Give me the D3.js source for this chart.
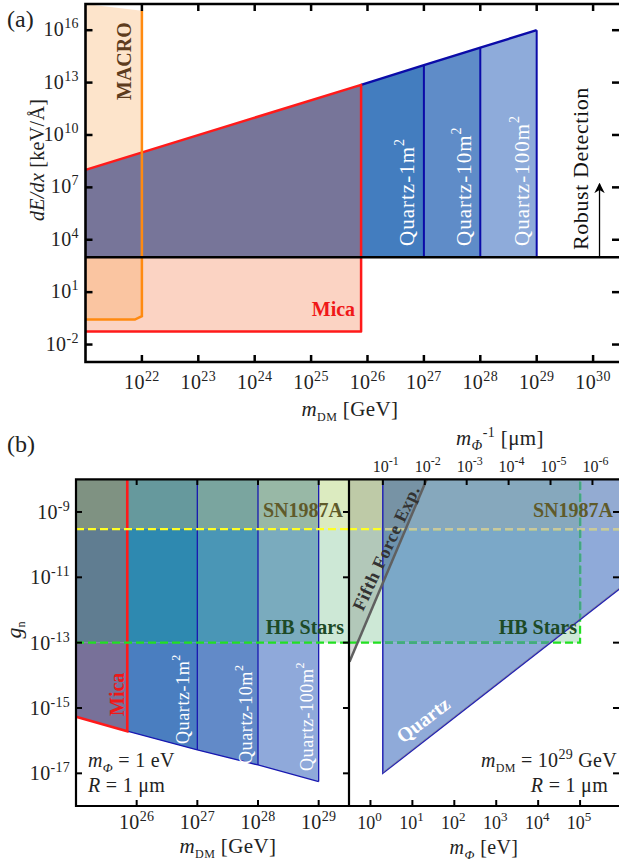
<!DOCTYPE html>
<html>
<head>
<meta charset="utf-8">
<script src="https://cdn.jsdelivr.net/npm/d3@7"></script>
<style>
body { margin: 0; background: #fff; }
svg { display: block; }
text { font-family: "Liberation Serif", "Times New Roman", serif; }
</style>
</head>
<body>
<svg width="619" height="867"></svg>
<script>
// ---------- panel (a) data ----------
const massTicksA = [1e22, 1e23, 1e24, 1e25, 1e26, 1e27, 1e28, 1e29, 1e30];
const rateTicksA = [1e-2, 1e1, 1e4, 1e7, 1e10, 1e13, 1e16];
const thresholdA = 1e3;                         // robust detection
const micaEdgeA = 7.7e25, micaFloorA = 0.056;
const envelopeMass = [1e21, 7.7e25, 1e27, 1e28, 1e29];
const envelopeRate = [1e8, 7.4e12, 1e14, 1e15, 1e16];
const macroOutline = [[1e21, 0.27], [7.5e21, 0.27], [1e22, 0.42], [1e22, 1.3e17]];
const quartzNamesA = ["Quartz-1m", "Quartz-10m", "Quartz-100m"];

// ---------- panel (b) data ----------
const massTicksB = [1e26, 1e27, 1e28, 1e29];
const gTicks = [1e-17, 1e-15, 1e-13, 1e-11, 1e-9];
const bandEdges = [1e25, 7e25, 1e27, 1e28, 1e29];       // Mica, Q1, Q10, Q100
const bandFloor = [5.4e-16, 1.95e-16, 5.2e-17, 1.8e-17, 5.6e-18];
const snLimit = 3e-10, hbLimit = 1e-13, hbMaxPhi = 1e5;
const phiTicks = [1, 10, 100, 1e3, 1e4, 1e5];
const invPhiTicks = [1e-1, 1e-2, 1e-3, 1e-4, 1e-5, 1e-6];  // micrometres
const hbarc = 0.1973;                                      // eV * um
const quartzLine = [[1.97, 1e-17], [1e6, 5.1e-12]];
const fifthForce = [[0.316, 2.6e-14], [22, 1e-8]];

const svg = d3.select("svg");
const defs = svg.append("defs");

function pow10(t, v, sup, dy) {
  const e = Math.round(Math.log10(v));
  t.append("tspan").text("10");
  t.append("tspan").attr("font-size", sup).attr("dy", -dy).text(e);
}
function clipRect(id, x0, y0, x1, y1) {
  defs.append("clipPath").attr("id", id).append("rect")
    .attr("x", x0).attr("y", y0).attr("width", x1 - x0).attr("height", y1 - y0);
  return "url(#" + id + ")";
}

// =========================== PANEL (a) ===========================
const xA = d3.scaleLog().domain([1e21, 3e30]).range([85.5, 620]);
const yA = d3.scaleLog().domain([1e-3, Math.pow(10, 17.5)]).range([362, 4]);
const lineA = d3.line().x(d => xA(d[0])).y(d => yA(d[1]));
const gA = svg.append("g");

// mica pink below threshold
gA.append("path").attr("fill", "#fbd3c3")
  .attr("d", lineA([[1e21, micaFloorA], [micaEdgeA, micaFloorA], [micaEdgeA, thresholdA], [1e21, thresholdA]]));
// MACRO translucent
gA.append("path").attr("fill", "rgb(248,165,82)").attr("fill-opacity", 0.3)
  .attr("d", lineA(macroOutline.concat([[1e21, Math.pow(10, 17.5)]])));

// bands above threshold
const bandColA = ["#777599", "#437dbf", "#5f8cc8", "#8eabda"];
for (let i = 0; i < 4; i++) {
  const pts = [[envelopeMass[i], thresholdA], [envelopeMass[i], envelopeRate[i]],
               [envelopeMass[i + 1], envelopeRate[i + 1]], [envelopeMass[i + 1], thresholdA]];
  gA.append("path").attr("fill", bandColA[i]).attr("d", lineA(pts));
}
// blue outlines
gA.append("path").attr("fill", "none").attr("stroke", "#0b0ba8").attr("stroke-width", 2.4)
  .attr("d", lineA(envelopeMass.slice(1).map((m, i) => [m, envelopeRate[i + 1]])));
[2, 3, 4].forEach(i => {
  gA.append("path").attr("stroke", "#0b0ba8").attr("stroke-width", 2)
    .attr("d", lineA([[envelopeMass[i], thresholdA], [envelopeMass[i], envelopeRate[i]]]));
});
// mica red outline
gA.append("path").attr("fill", "none").attr("stroke", "#ff1a1a").attr("stroke-width", 2.5)
  .attr("stroke-linejoin", "round")
  .attr("d", lineA([[1e21, envelopeRate[0]], [micaEdgeA, envelopeRate[1]], [micaEdgeA, micaFloorA], [1e21, micaFloorA]]));
// MACRO outline
gA.append("path").attr("fill", "none").attr("stroke", "#ff8a10").attr("stroke-width", 2.5)
  .attr("d", lineA(macroOutline));
// threshold
gA.append("line").attr("x1", 85).attr("x2", 619).attr("y1", yA(thresholdA)).attr("y2", yA(thresholdA))
  .attr("stroke", "#000").attr("stroke-width", 2.6);

// labels
gA.append("text").attr("transform", `translate(131,100) rotate(-90)`)
  .attr("font-size", 20).attr("font-weight", "bold").attr("fill", "#5e3c1d").text("MACRO");
gA.append("text").attr("x", xA(micaEdgeA) - 6).attr("y", 316).attr("text-anchor", "end")
  .attr("font-size", 20).attr("font-weight", "bold").attr("fill", "#f01818").text("Mica");
const qxA = [414, 471, 529];
quartzNamesA.forEach((n, i) => {
  const t = gA.append("text").attr("transform", `translate(${qxA[i]},246) rotate(-90)`)
    .attr("font-size", 21).attr("fill", "#fff").attr("letter-spacing", 1);
  t.append("tspan").text(n);
  t.append("tspan").attr("font-size", 14).attr("dy", -10).text("2");
});
gA.append("text").attr("transform", `translate(588,250) rotate(-90)`)
  .attr("font-size", 22).attr("fill", "#111").attr("letter-spacing", 0.6).text("Robust Detection");
defs.append("marker").attr("id", "arr").attr("viewBox", "0 0 10 10").attr("refX", 9).attr("refY", 5)
  .attr("markerWidth", 8).attr("markerHeight", 8).attr("orient", "auto")
  .append("path").attr("d", "M0,0 L10,5 L0,10 L3,5 Z").attr("fill", "#000");
gA.append("line").attr("x1", xA(1.3e30)).attr("x2", xA(1.3e30))
  .attr("y1", yA(thresholdA)).attr("y2", yA(1.6e7))
  .attr("stroke", "#000").attr("stroke-width", 1.3).attr("marker-end", "url(#arr)");

// frame & ticks
gA.append("path").attr("fill", "none").attr("stroke", "#000").attr("stroke-width", 2.6)
  .attr("d", "M620,4 H85.5 V362 H620");
massTicksA.forEach(m => {
  gA.append("line").attr("x1", xA(m)).attr("x2", xA(m)).attr("y1", 362).attr("y2", 355).attr("stroke", "#000").attr("stroke-width", 2.5);
  gA.append("line").attr("x1", xA(m)).attr("x2", xA(m)).attr("y1", 4).attr("y2", 11).attr("stroke", "#000").attr("stroke-width", 2.5);
  const t = gA.append("text").attr("x", xA(m)).attr("y", 389).attr("text-anchor", "middle").attr("font-size", 20)
    .attr("letter-spacing", 0.4).attr("fill", "#222");
  pow10(t, m, 14, 8);
});
rateTicksA.forEach(r => {
  gA.append("line").attr("x1", 85.5).attr("x2", 92.5).attr("y1", yA(r)).attr("y2", yA(r)).attr("stroke", "#000").attr("stroke-width", 2.5);
  gA.append("line").attr("x1", 612).attr("x2", 619).attr("y1", yA(r)).attr("y2", yA(r)).attr("stroke", "#000").attr("stroke-width", 2.5);
  const t = gA.append("text").attr("x", 79).attr("y", yA(r) + 6).attr("text-anchor", "end").attr("font-size", 20)
    .attr("letter-spacing", 0.4).attr("fill", "#222");
  pow10(t, r, 14, 8);
});
{
  const t = gA.append("text").attr("transform", "translate(44,160) rotate(-90)").attr("text-anchor", "middle")
    .attr("font-size", 20).attr("fill", "#222").attr("letter-spacing", 0.3);
  t.append("tspan").attr("font-style", "italic").text("dE/dx");
  t.append("tspan").text(" [keV/\u00C5]");
  const u = gA.append("text").attr("x", 350).attr("y", 416).attr("text-anchor", "middle").attr("font-size", 21)
    .attr("fill", "#222").attr("letter-spacing", 0.4);
  u.append("tspan").attr("font-style", "italic").text("m");
  u.append("tspan").attr("font-size", 12).attr("dy", 5).text("DM");
  u.append("tspan").attr("dy", -5).text(" [GeV]");
}
svg.append("text").attr("x", 7).attr("y", 27).attr("font-size", 24).attr("fill", "#222").text("(a)");
svg.append("text").attr("x", 7).attr("y", 452).attr("font-size", 24).attr("fill", "#222").text("(b)");

// =========================== PANEL (b) left ===========================
const xL = d3.scaleLog().domain([1e25, Math.pow(10, 29.5)]).range([76, 349]);
const yB = d3.scaleLog().domain([1e-18, 1e-8]).range([806, 479.3]);
const lineL = d3.line().x(d => xL(d[0])).y(d => yB(d[1]));
const gL = svg.append("g");
const ySN = yB(snLimit), yHB = yB(hbLimit);

gL.append("rect").attr("x", 76).attr("y", 479).attr("width", 273).attr("height", yHB - 479).attr("fill", "#cde8d6");
gL.append("rect").attr("x", 76).attr("y", 479).attr("width", 273).attr("height", ySN - 479).attr("fill", "#dcebc0");

const zoneL = [clipRect("zl0", 76, 479, 349, ySN), clipRect("zl1", 76, ySN, 349, yHB), clipRect("zl2", 76, yHB, 349, 806)];
const bandColB = [
  ["#7f9282", "#607d91", "#787199"],
  ["#66999d", "#2e89b0", "#4a7ec0"],
  ["#7aa59f", "#4a96b6", "#628ac8"],
  ["#98b8a6", "#7aabbe", "#8fa9da"]
];
for (let i = 0; i < 4; i++) {
  const pts = [[bandEdges[i], bandFloor[i]], [bandEdges[i + 1], bandFloor[i + 1]],
               [bandEdges[i + 1], 1e-8], [bandEdges[i], 1e-8]];
  for (let z = 0; z < 3; z++)
    gL.append("path").attr("fill", bandColB[i][z]).attr("clip-path", zoneL[z]).attr("d", lineL(pts));
}
gL.append("path").attr("fill", "none").attr("stroke", "#1818b0").attr("stroke-width", 1.3)
  .attr("d", lineL(bandEdges.slice(1).map((m, i) => [m, bandFloor[i + 1]])));
[2, 3, 4].forEach(i => gL.append("path").attr("stroke", "#1818b0").attr("stroke-width", 1.3)
  .attr("d", lineL([[bandEdges[i], bandFloor[i]], [bandEdges[i], 1e-8]])));
gL.append("path").attr("fill", "none").attr("stroke", "#ff1a1a").attr("stroke-width", 2.6)
  .attr("d", lineL([[bandEdges[0], bandFloor[0]], [bandEdges[1], bandFloor[1]], [bandEdges[1], 1e-8]]));
// dashed limits
gL.append("line").attr("x1", 76).attr("x2", 349).attr("y1", ySN).attr("y2", ySN)
  .attr("stroke", "#ffff22").attr("stroke-width", 2.2).attr("stroke-dasharray", "8,4");
gL.append("line").attr("x1", 76).attr("x2", 349).attr("y1", yHB).attr("y2", yHB)
  .attr("stroke", "#22e022").attr("stroke-width", 2.2).attr("stroke-dasharray", "8,4");

// labels
gL.append("text").attr("x", 343).attr("y", 517).attr("text-anchor", "end").attr("font-size", 20)
  .attr("font-weight", "bold").attr("fill", "#5f5a2a").text("SN1987A");
gL.append("text").attr("x", 344).attr("y", 634).attr("text-anchor", "end").attr("font-size", 20)
  .attr("font-weight", "bold").attr("fill", "#1d4a26").text("HB Stars");
gL.append("text").attr("transform", "translate(124,716) rotate(-90)").attr("font-size", 20)
  .attr("font-weight", "bold").attr("fill", "#f01818").text("Mica");
const qxB = [189, 252, 313], qyB = [744, 764, 771];
quartzNamesA.forEach((n, i) => {
  const t = gL.append("text").attr("transform", `translate(${qxB[i]},${qyB[i]}) rotate(-90)`)
    .attr("font-size", 18).attr("fill", "#fff").attr("letter-spacing", 0.6);
  t.append("tspan").text(n);
  t.append("tspan").attr("font-size", 12).attr("dy", -9).text("2");
});
{
  const t = gL.append("text").attr("x", 88).attr("y", 767).attr("font-size", 20).attr("fill", "#222").attr("letter-spacing", 0.3);
  t.append("tspan").attr("font-style", "italic").text("m");
  t.append("tspan").attr("font-style", "italic").attr("font-size", 13).attr("dy", 5).text("\u03A6");
  t.append("tspan").attr("dy", -5).text(" = 1 eV");
  const r = gL.append("text").attr("x", 88).attr("y", 792).attr("font-size", 20).attr("fill", "#222").attr("letter-spacing", 0.3);
  r.append("tspan").attr("font-style", "italic").text("R");
  r.append("tspan").text(" = 1 \u03BCm");
}

// =========================== PANEL (b) right ===========================
const xR = d3.scaleLog().domain([Math.pow(10, -0.5), 1e6]).range([349.5, 622]);
const lineR = d3.line().x(d => xR(d[0])).y(d => yB(d[1]));
const gR = svg.append("g");
const xHB = xR(hbMaxPhi);

gR.append("rect").attr("x", 349).attr("y", 479).attr("width", xHB - 349).attr("height", yHB - 479).attr("fill", "#cde8d6");
gR.append("rect").attr("x", 349).attr("y", 479).attr("width", xHB - 349).attr("height", ySN - 479).attr("fill", "#dcebc0");

const quartzPoly = [quartzLine[0], quartzLine[1], [1e6, 1e-8], [quartzLine[0][0], 1e-8]];
defs.append("clipPath").attr("id", "qclip").append("path").attr("d", lineR(quartzPoly));
const zoneR = [
  [clipRect("zr0", 349, 479, xHB, ySN), "#86a8bd"],
  [clipRect("zr1", 349, ySN, xHB, yHB), "#7ba8c8"],
  [clipRect("zr2", 349, yHB, xHB, 806), "#8faad9"],
  [clipRect("zr3", xHB, 479, 622, ySN), "#93abd2"],
  [clipRect("zr4", xHB, ySN, 622, 806), "#8faad9"]
];
zoneR.forEach(z => gR.append("path").attr("fill", z[1]).attr("clip-path", z[0]).attr("d", lineR(quartzPoly)));

// fifth force excluded region
gR.append("path").attr("fill", "#3a3a3a").attr("fill-opacity", 0.18)
  .attr("d", lineR([fifthForce[0], fifthForce[1], [Math.pow(10, -0.5), 1e-8], [Math.pow(10, -0.5), fifthForce[0][1]]]));

// dashed limits (bright, then faded where under quartz)
function limits(g, col1, col2, clip) {
  const s = g.append("g");
  if (clip) s.attr("clip-path", clip);
  s.append("line").attr("x1", 349).attr("x2", 622).attr("y1", ySN).attr("y2", ySN)
    .attr("stroke", col1).attr("stroke-width", 2.2).attr("stroke-dasharray", "8,4");
  s.append("path").attr("fill", "none").attr("stroke", col2).attr("stroke-width", 2.2).attr("stroke-dasharray", "8,4")
    .attr("d", `M349,${yHB} H${xHB} V479`);
}
limits(gR, "#ffff22", "#22e022", null);
limits(gR, "#c9c99c", "#44a585", "url(#qclip)");

// outlines
gR.append("path").attr("fill", "none").attr("stroke", "#2424b4").attr("stroke-width", 1.5)
  .attr("d", lineR([[quartzLine[0][0], 1e-8], quartzLine[0], quartzLine[1]]));
gR.append("path").attr("fill", "none").attr("stroke", "#8a8a9a").attr("stroke-width", 0.8)
  .attr("transform", "translate(0,-1)").attr("d", lineR(quartzLine));
gR.append("path").attr("stroke", "#606060").attr("stroke-width", 2.5).attr("d", lineR(fifthForce));

// labels
gR.append("text").attr("x", 613).attr("y", 517).attr("text-anchor", "end").attr("font-size", 20)
  .attr("font-weight", "bold").attr("fill", "#5f5a2a").text("SN1987A");
gR.append("text").attr("x", 577).attr("y", 634).attr("text-anchor", "end").attr("font-size", 20)
  .attr("font-weight", "bold").attr("fill", "#1d4a26").text("HB Stars");
gR.append("text").attr("transform", "translate(403,744) rotate(-37.5)").attr("font-size", 20)
  .attr("font-weight", "bold").attr("fill", "#fff").text("Quartz");
gR.append("text").attr("transform", "translate(363,612) rotate(-65)").attr("font-size", 18)
  .attr("font-weight", "bold").attr("fill", "#333").attr("letter-spacing", 0.6).text("Fifth Force Exp.");
{
  const t = gR.append("text").attr("x", 617).attr("y", 767).attr("text-anchor", "end").attr("font-size", 20)
    .attr("fill", "#222").attr("letter-spacing", 0.3);
  t.append("tspan").attr("font-style", "italic").text("m");
  t.append("tspan").attr("font-size", 12).attr("dy", 5).text("DM");
  t.append("tspan").attr("dy", -5).text(" = 10");
  t.append("tspan").attr("font-size", 14).attr("dy", -8).text("29");
  t.append("tspan").attr("dy", 8).text(" GeV");
  const r = gR.append("text").attr("x", 608).attr("y", 792).attr("text-anchor", "end").attr("font-size", 20)
    .attr("fill", "#222").attr("letter-spacing", 0.3);
  r.append("tspan").attr("font-style", "italic").text("R");
  r.append("tspan").text(" = 1 \u03BCm");
}

// =========================== panel (b) frame, ticks, axes ===========================
const gF = svg.append("g");
gF.append("path").attr("fill", "none").attr("stroke", "#000").attr("stroke-width", 2.2)
  .attr("d", "M621,479.3 H76 V806 H621 M349,479.3 V806");
const tk = (x1, y1, x2, y2) => gF.append("line").attr("x1", x1).attr("y1", y1).attr("x2", x2).attr("y2", y2)
  .attr("stroke", "#000").attr("stroke-width", 2);
massTicksB.forEach(m => {
  tk(xL(m), 806, xL(m), 800); tk(xL(m), 479.3, xL(m), 485);
  const t = gF.append("text").attr("x", xL(m)).attr("y", 829).attr("text-anchor", "middle").attr("font-size", 20)
    .attr("letter-spacing", 0.3).attr("fill", "#222");
  pow10(t, m, 14, 8);
});
gTicks.forEach(g => {
  tk(76, yB(g), 82, yB(g)); tk(349, yB(g), 343, yB(g)); tk(619, yB(g), 613, yB(g));
  const t = gF.append("text").attr("x", 70).attr("y", yB(g) + 7).attr("text-anchor", "end").attr("font-size", 20)
    .attr("letter-spacing", 0.3).attr("fill", "#222");
  pow10(t, g, 14, 8);
});
phiTicks.forEach(p => {
  tk(xR(p), 806, xR(p), 800);
  const t = gF.append("text").attr("x", xR(p) - 1).attr("y", 829).attr("text-anchor", "middle").attr("font-size", 18)
    .attr("fill", "#222");
  pow10(t, p, 13, 8);
});
invPhiTicks.forEach(l => {
  const x = xR(hbarc / l);
  tk(x, 479.3, x, 485);
  const t = gF.append("text").attr("x", x + 3).attr("y", 472).attr("text-anchor", "middle").attr("font-size", 16).attr("fill", "#222");
  pow10(t, l, 12, 7);
});
{
  const g = gF.append("text").attr("transform", "translate(21,630) rotate(-90)").attr("text-anchor", "middle")
    .attr("font-size", 22).attr("fill", "#222");
  g.append("tspan").attr("font-style", "italic").text("g");
  g.append("tspan").attr("font-size", 12).attr("dy", 4).text("n");
  const a = gF.append("text").attr("x", 228).attr("y", 853).attr("text-anchor", "middle").attr("font-size", 21)
    .attr("fill", "#222").attr("letter-spacing", 0.4);
  a.append("tspan").attr("font-style", "italic").text("m");
  a.append("tspan").attr("font-size", 12).attr("dy", 5).text("DM");
  a.append("tspan").attr("dy", -5).text(" [GeV]");
  const b = gF.append("text").attr("x", 484).attr("y", 854).attr("text-anchor", "middle").attr("font-size", 20)
    .attr("fill", "#222").attr("letter-spacing", 0.4);
  b.append("tspan").attr("font-style", "italic").text("m");
  b.append("tspan").attr("font-style", "italic").attr("font-size", 13).attr("dy", 5).text("\u03A6");
  b.append("tspan").attr("dy", -5).text(" [eV]");
  const c = gF.append("text").attr("x", 500).attr("y", 445).attr("text-anchor", "middle").attr("font-size", 21)
    .attr("fill", "#222").attr("letter-spacing", 0.4);
  c.append("tspan").attr("font-style", "italic").text("m");
  c.append("tspan").attr("font-style", "italic").attr("font-size", 14).attr("dy", 5).text("\u03A6");
  c.append("tspan").attr("font-size", 14).attr("dy", -13).text("-1");
  c.append("tspan").attr("dy", 8).text(" [\u03BCm]");
}
</script>
</body>
</html>
